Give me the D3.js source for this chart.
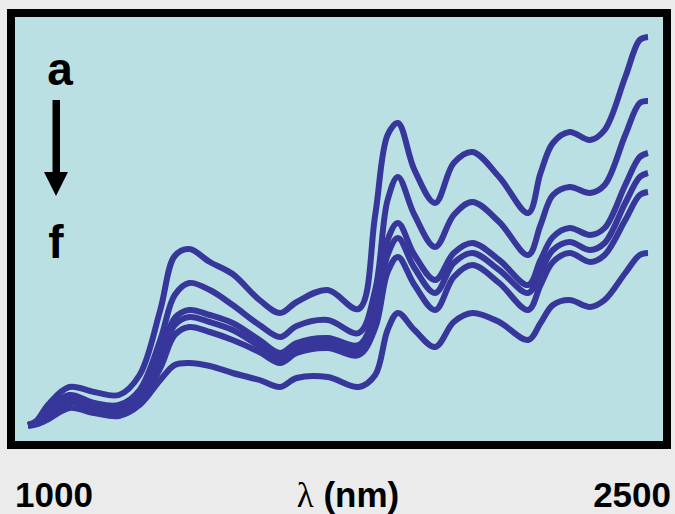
<!DOCTYPE html>
<html>
<head>
  <title>NIR spectra a - f</title>
  <script src="https://d3js.org/d3.v7.min.js"></script>
  <style>
    body { margin: 0; background: #ebebeb; }
    svg { display: block; }
    .lbl { font-family: "Liberation Sans", Arial, sans-serif; font-weight: bold; fill: #000; }
  </style>
</head>
<body>
<div id="chart"></div>
<script>
  // wavelengths (nm) sampled along every spectrum
  const wavelengths = [1000, 1020, 1050, 1100, 1160, 1220, 1270, 1320, 1355, 1390, 1440, 1495, 1560, 1610, 1650, 1725, 1800,
    1840, 1870, 1895, 1935, 1985, 2030, 2075, 2140, 2210, 2240, 2270, 2310, 2360, 2395, 2445, 2480, 2500];

  // absorbance of each sample, top (a) to bottom (f)
  const specA = [0.014, 0.022, 0.056, 0.090, 0.080, 0.074, 0.114, 0.244, 0.352, 0.366, 0.340, 0.316, 0.264, 0.238, 0.260, 0.284, 0.246,
    0.434, 0.594, 0.618, 0.524, 0.458, 0.538, 0.560, 0.510, 0.438, 0.518, 0.578, 0.600, 0.584, 0.604, 0.710, 0.784, 0.790];
  const specB = [0.014, 0.020, 0.046, 0.074, 0.058, 0.054, 0.084, 0.184, 0.274, 0.298, 0.284, 0.254, 0.214, 0.190, 0.212, 0.224, 0.198,
    0.284, 0.464, 0.510, 0.434, 0.370, 0.434, 0.460, 0.420, 0.354, 0.414, 0.474, 0.490, 0.478, 0.494, 0.594, 0.658, 0.662];
  const specC = [0.014, 0.019, 0.042, 0.068, 0.052, 0.048, 0.074, 0.154, 0.228, 0.244, 0.234, 0.218, 0.184, 0.158, 0.178, 0.188, 0.174,
    0.244, 0.384, 0.418, 0.354, 0.304, 0.358, 0.378, 0.344, 0.294, 0.344, 0.390, 0.408, 0.394, 0.408, 0.494, 0.550, 0.558];
  const specD = [0.014, 0.019, 0.038, 0.064, 0.048, 0.044, 0.068, 0.144, 0.214, 0.230, 0.220, 0.204, 0.172, 0.148, 0.168, 0.178, 0.164,
    0.224, 0.354, 0.388, 0.328, 0.278, 0.338, 0.358, 0.324, 0.278, 0.320, 0.364, 0.380, 0.364, 0.378, 0.458, 0.510, 0.518];
  const specE = [0.014, 0.018, 0.035, 0.060, 0.044, 0.040, 0.060, 0.128, 0.194, 0.210, 0.200, 0.184, 0.160, 0.138, 0.158, 0.168, 0.154,
    0.208, 0.320, 0.350, 0.294, 0.244, 0.310, 0.334, 0.298, 0.244, 0.294, 0.340, 0.358, 0.340, 0.354, 0.424, 0.474, 0.480];
  const specF = [0.012, 0.015, 0.026, 0.048, 0.038, 0.032, 0.054, 0.104, 0.134, 0.138, 0.132, 0.118, 0.104, 0.090, 0.108, 0.110, 0.090,
    0.114, 0.204, 0.238, 0.204, 0.170, 0.220, 0.238, 0.220, 0.184, 0.218, 0.254, 0.264, 0.250, 0.264, 0.318, 0.354, 0.358];

  const spectra = [specA, specB, specC, specD, specE, specF];
  const xTicks = ["1000", "2500"];

  const W = 675, H = 514;
  const svg = d3.select("#chart").append("svg")
    .attr("width", W)
    .attr("height", H);

  svg.append("rect").attr("width", W).attr("height", H).attr("fill", "#ebebeb");

  // plot frame
  const frame = {x: 11, y: 13, w: 656, h: 432};
  svg.append("rect")
    .attr("x", frame.x).attr("y", frame.y)
    .attr("width", frame.w).attr("height", frame.h)
    .attr("fill", "#bae0e4")
    .attr("stroke", "#000")
    .attr("stroke-width", 8);

  svg.append("clipPath").attr("id", "clip")
    .append("rect")
    .attr("x", frame.x + 4).attr("y", frame.y + 4)
    .attr("width", frame.w - 8).attr("height", frame.h - 8);

  const x = d3.scaleLinear().domain([1000, 2500]).range([28, 648]);
  const y = d3.scaleLinear().domain([0, 0.8]).range([432, 32]);

  const line = d3.line()
    .x((d, i) => x(wavelengths[i]))
    .y(d => y(d))
    .curve(d3.curveCatmullRom.alpha(0.5));

  svg.append("g")
    .attr("clip-path", "url(#clip)")
    .selectAll("path")
    .data(spectra.slice().reverse())
    .join("path")
    .attr("d", line)
    .attr("fill", "none")
    .attr("stroke", "#36369b")
    .attr("stroke-width", 6)
    .attr("stroke-linejoin", "round")
    .attr("stroke-linecap", "butt");

  // a -> f arrow
  svg.append("text").attr("class", "lbl")
    .attr("x", 60).attr("y", 85)
    .attr("text-anchor", "middle")
    .style("font-size", "46px")
    .text("a");
  svg.append("rect")
    .attr("x", 52.5).attr("y", 100)
    .attr("width", 7.5).attr("height", 74)
    .attr("fill", "#000");
  svg.append("path")
    .attr("d", "M44,172 L68,172 L56,196 Z")
    .attr("fill", "#000");
  svg.append("text").attr("class", "lbl")
    .attr("x", 56).attr("y", 258)
    .attr("text-anchor", "middle")
    .style("font-size", "46px")
    .text("f");

  // axis text under the frame
  svg.append("text").attr("class", "lbl")
    .attr("x", 15).attr("y", 507)
    .style("font-size", "35px")
    .text(xTicks[0]);
  svg.append("text").attr("class", "lbl")
    .attr("x", 671).attr("y", 507)
    .attr("text-anchor", "end")
    .style("font-size", "35px")
    .text(xTicks[1]);
  const xl = svg.append("text").attr("class", "lbl")
    .attr("x", 348).attr("y", 507)
    .attr("text-anchor", "middle")
    .style("font-size", "35px");
  xl.append("tspan")
    .style("font-family", "'Liberation Serif', 'Times New Roman', serif")
    .style("font-weight", "normal")
    .text("λ");
  xl.append("tspan").text(" (nm)");
</script>
</body>
</html>
